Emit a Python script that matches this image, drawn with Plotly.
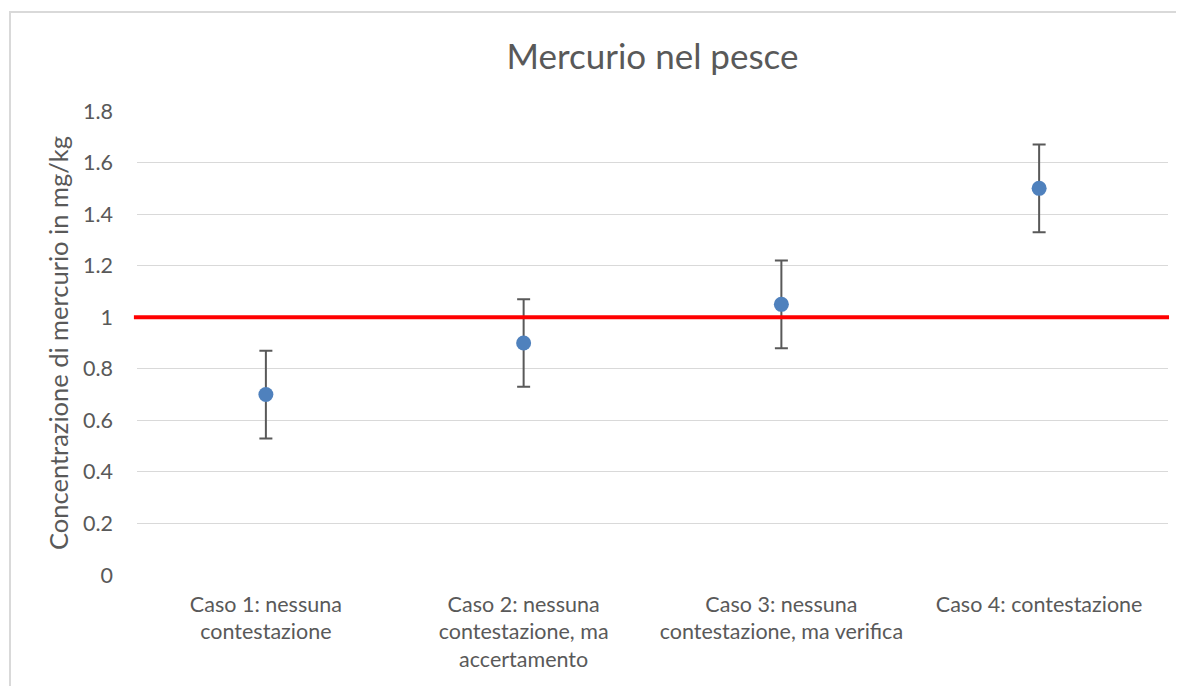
import plotly.graph_objects as go

categories = [
    "Caso 1: nessuna<br>contestazione",
    "Caso 2: nessuna<br>contestazione, ma<br>accertamento",
    "Caso 3: nessuna<br>contestazione, ma verifica",
    "Caso 4: contestazione",
]
values = [0.7, 0.9, 1.05, 1.5]
errors = [0.17, 0.17, 0.17, 0.17]
limit = 1.0
y_ticks = [0, 0.2, 0.4, 0.6, 0.8, 1, 1.2, 1.4, 1.6, 1.8]
y_tick_labels = ["0", "0.2", "0.4", "0.6", "0.8", "1", "1.2", "1.4", "1.6", "1.8"]

font_family = "Lato, Open Sans, Liberation Sans, sans-serif"
grey = "#595959"

fig = go.Figure()
fig.add_trace(go.Scatter(
    x=categories, y=values, mode="markers",
    marker=dict(color="#4F81BD", size=15),
    error_y=dict(type="data", array=errors, visible=True, color=grey, thickness=2, width=6.5),
    showlegend=False,
))

fig.add_shape(type="line", xref="paper", yref="y", x0=-0.003, x1=1.001, y0=limit, y1=limit,
              line=dict(color="#FF0000", width=4))
fig.add_shape(type="rect", xref="paper", yref="paper", x0=-0.1232, x1=1.05, y0=-0.3, y1=1.2134,
              line=dict(color="#d9d9d9", width=2), fillcolor="rgba(0,0,0,0)", layer="below")

fig.update_layout(
    width=1184, height=686,
    margin=dict(l=129, r=24, t=103, b=119),
    paper_bgcolor="white", plot_bgcolor="white",
    title=dict(text="Mercurio nel pesce", x=0.5, xanchor="center", y=0.9286, yanchor="middle",
               xref="paper",
               font=dict(family=font_family, size=35, color=grey)),
    font=dict(family=font_family, color=grey),
    xaxis=dict(type="category", range=[-0.5, 3.5], showgrid=False, zeroline=False,
               showline=False, ticks="", tickfont=dict(size=21.5, color=grey), ticklabelstandoff=14),
    yaxis=dict(range=[0, 1.8], tickvals=y_ticks, ticktext=y_tick_labels, showgrid=True,
               gridcolor="#d9d9d9", gridwidth=1, zeroline=False, showline=False,
               tickfont=dict(size=21.5, color=grey), ticklabelstandoff=23,
               title=dict(text="Concentrazione di mercurio in mg/kg",
                          font=dict(size=25.5, color=grey), standoff=7)),
)

fig.write_html("out.html")
